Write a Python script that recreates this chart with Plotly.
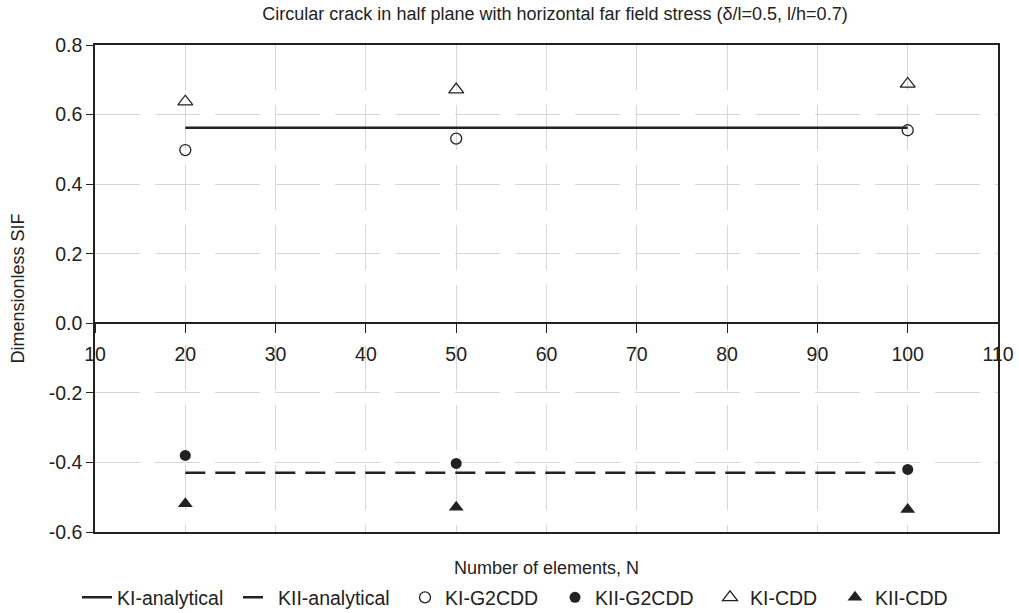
import plotly.graph_objects as go

N = [20, 50, 100]
ki_analytical = [0.562, 0.562, 0.562]
kii_analytical = [-0.430, -0.430, -0.430]
ki_g2cdd = [0.498, 0.531, 0.555]
kii_g2cdd = [-0.380, -0.403, -0.420]
ki_cdd = [0.637, 0.672, 0.688]
kii_cdd = [-0.519, -0.529, -0.535]

x_ticks = [10, 20, 30, 40, 50, 60, 70, 80, 90, 100, 110]
y_ticks = [-0.6, -0.4, -0.2, 0.0, 0.2, 0.4, 0.6, 0.8]
y_tick_labels = ["-0.6", "-0.4", "-0.2", "0.0", "0.2", "0.4", "0.6", "0.8"]
y_range = [-0.6, 0.8]

FONT = "Liberation Sans, Arial, sans-serif"
INK = "#222222"
GRID = "#d6d6d6"

fig = go.Figure()
fig.add_trace(go.Scatter(x=N, y=ki_analytical, mode="lines", name="KI-analytical",
                         line=dict(color=INK, width=2.5), legendwidth=116))
fig.add_trace(go.Scatter(x=N, y=kii_analytical, mode="lines", name="KII-analytical",
                         line=dict(color=INK, width=2.5, dash="20px,10px"), legendwidth=122))
fig.add_trace(go.Scatter(x=N, y=ki_g2cdd, mode="markers", name="KI-G2CDD", legendwidth=105,
                         marker=dict(symbol="circle-open", size=11, color=INK, line=dict(width=1.3))))
fig.add_trace(go.Scatter(x=N, y=kii_g2cdd, mode="markers", name="KII-G2CDD", legendwidth=110,
                         marker=dict(symbol="circle", size=11, color=INK)))
fig.add_trace(go.Scatter(x=N, y=ki_cdd, mode="markers", name="KI-CDD", legendwidth=80,
                         marker=dict(symbol="triangle-up-open", size=13, color=INK, line=dict(width=1.3))))
fig.add_trace(go.Scatter(x=N, y=kii_cdd, mode="markers", name="KII-CDD", legendwidth=75,
                         marker=dict(symbol="triangle-up", size=13, color=INK)))
# helper trace so the axis through y=0 is drawn
fig.add_trace(go.Scatter(x=[x_ticks[0], x_ticks[-1]], y=[0, 0], xaxis="x2", mode="lines",
                         line=dict(color=INK, width=1.5), showlegend=False, hoverinfo="skip"))

zero_pos = (0 - y_range[0]) / (y_range[1] - y_range[0])

fig.update_layout(
    width=1019, height=613,
    margin=dict(l=95, r=21, t=45, b=81),
    paper_bgcolor="white", plot_bgcolor="white",
    font=dict(family=FONT, size=19, color=INK),
    title=dict(text="Circular crack in half plane with horizontal far field stress (δ/l=0.5, l/h=0.7)",
               x=555 / 1019, xref="container", xanchor="center", y=0.977, yanchor="middle",
               font=dict(size=18, color=INK), automargin=False),
    xaxis=dict(range=[x_ticks[0], x_ticks[-1]], tickvals=x_ticks, showticklabels=False,
               showgrid=True, gridcolor=GRID, griddash="45px,15px", gridwidth=1,
               showline=True, linecolor=INK, linewidth=1.5, mirror=True, ticks="",
               zeroline=False, automargin=False,
               title=dict(text="Number of elements, N", standoff=30, font=dict(size=18))),
    xaxis2=dict(range=[x_ticks[0], x_ticks[-1]], tickvals=x_ticks, overlaying="x",
                anchor="free", position=zero_pos, side="bottom", automargin=False,
                showline=True, linecolor=INK, linewidth=1.5, ticks="outside", ticklen=9,
                tickcolor=INK, showgrid=False, zeroline=False, tickfont=dict(size=19.5),
                ticklabelstandoff=5),
    yaxis=dict(range=y_range, tickvals=y_ticks, ticktext=y_tick_labels,
               showgrid=True, gridcolor=GRID, griddash="45px,15px", gridwidth=1,
               showline=True, linecolor=INK, linewidth=1.5, mirror=True, automargin=False,
               ticks="outside", ticklen=7, tickcolor=INK, zeroline=False,
               title=dict(text="Dimensionless SIF", standoff=19, font=dict(size=18)),
               tickfont=dict(size=19.5)),
    legend=dict(orientation="h", xref="container", yref="container", x=77 / 1019, xanchor="left",
                y=0.025, yanchor="middle", font=dict(size=19.5),
                bgcolor="rgba(0,0,0,0)"),
    showlegend=True,
)

fig.write_html("out.html")
